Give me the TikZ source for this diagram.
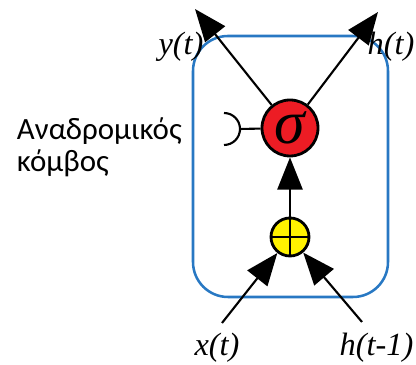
\documentclass[tikz,border=0pt]{standalone}
\usepackage{fontspec}
\setmainfont{Liberation Serif}
\newfontfamily\greekfont{Carlito}
\usetikzlibrary{arrows.meta}
\definecolor{boxblue}{RGB}{40,120,195}
\definecolor{sigred}{RGB}{237,28,36}
\definecolor{sumyellow}{RGB}{255,242,0}
\begin{document}
\begin{tikzpicture}[x=0.025cm,y=0.025cm,line join=round,
  big/.style={-{Triangle[length=23pt,width=18pt]},line width=1.5pt},
  unit/.style={circle,draw,line width=2pt,inner sep=0pt},
  lab/.style={font=\fontsize{23}{23}\selectfont\itshape}]
\useasboundingbox (0,0) rectangle (416,365);
% cell border
\draw[boxblue,line width=1.8pt,rounded corners=0.875cm] (193,68) rectangle (388,329);
\node[unit,fill=sigred,minimum size=1.4cm] (S) at (290,237) {\fontsize{44}{44}\selectfont\itshape σ};
\node[unit,fill=sumyellow,minimum size=0.95cm] (P) at (290,128) {};
\draw[line width=1.3pt] (P.north)--(P.south) (P.west)--(P.east);
\path
  (195,356) coordinate (Y)
  (378,353) coordinate (H)
  (222,42) coordinate (X)
  (362,43) coordinate (Hp)
  (240,236) coordinate (R)
  ;
\draw[big] (P)--(S);
\foreach \p in {X,Hp} \draw[big] (\p)--(P);
\foreach \p in {Y,H} \draw[big] (S)--(\p);
% recurrent link
\draw[line width=1.5pt] (S)--(R) ++(-16,16) arc[start angle=90,end angle=-90,radius=16];
\node[lab] (ylab) at (181,318) {y(t)};
\node[lab,anchor=east,inner xsep=1pt] (hlab) at (416,318) {h(t)};
\node[lab] (xlab) at (217,17) {x(t)};
\node[lab,anchor=east,inner xsep=1pt] (hplab) at (415,17) {h(t-1)};
\node[anchor=west,align=left,font=\greekfont\fontsize{22}{23}\selectfont] (rn) at (12,218) {Αναδρομικός\\κόμβος};
\end{tikzpicture}
\end{document}
